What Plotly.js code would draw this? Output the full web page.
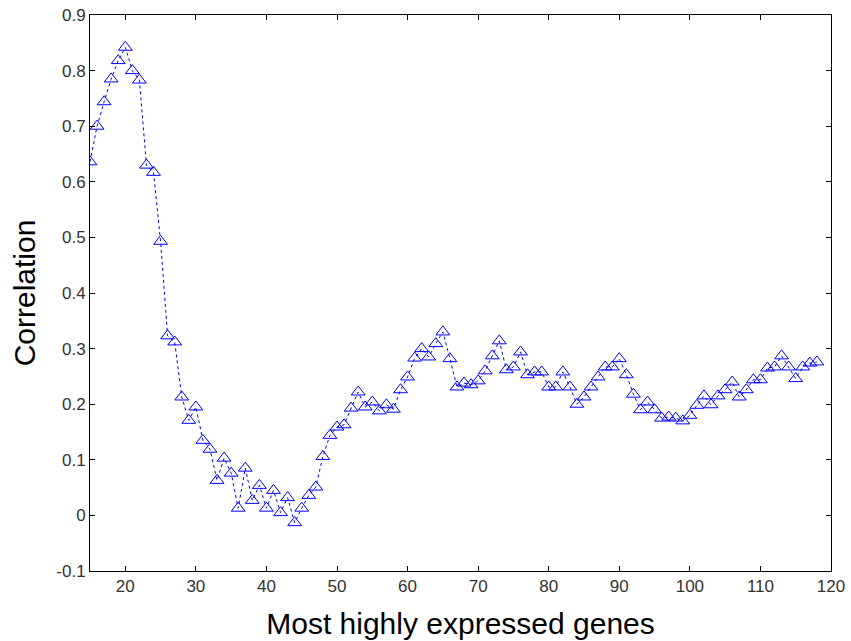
<!DOCTYPE html>
<html>
<head>
<meta charset="utf-8">
<script src="https://cdn.plot.ly/plotly-3.0.1.min.js"></script>
<style>html,body{margin:0;padding:0;background:#fff;}#chart{width:851px;height:641px;}</style>
</head>
<body>
<div id="chart"></div>
<script>
const genes = [15,16,17,18,19,20,21,22,23,24,25,26,27,28,29,30,31,32,33,34,35,36,37,38,39,40,41,42,43,44,45,46,47,48,49,50,51,52,53,54,55,56,57,58,59,60,61,62,63,64,65,66,67,68,69,70,71,72,73,74,75,76,77,78,79,80,81,82,83,84,85,86,87,88,89,90,91,92,93,94,95,96,97,98,99,100,101,102,103,104,105,106,107,108,109,110,111,112,113,114,115,116,117,118];
const correlation = [0.636,0.700,0.744,0.785,0.818,0.842,0.800,0.783,0.630,0.617,0.493,0.323,0.312,0.213,0.171,0.195,0.135,0.119,0.063,0.103,0.076,0.013,0.085,0.027,0.054,0.013,0.045,0.005,0.032,-0.013,0.013,0.036,0.051,0.106,0.144,0.159,0.163,0.193,0.222,0.195,0.204,0.188,0.199,0.191,0.226,0.249,0.283,0.300,0.285,0.309,0.330,0.282,0.231,0.238,0.235,0.242,0.260,0.287,0.314,0.262,0.267,0.294,0.253,0.258,0.258,0.231,0.231,0.258,0.231,0.200,0.213,0.231,0.249,0.267,0.267,0.282,0.253,0.218,0.190,0.204,0.190,0.175,0.177,0.175,0.170,0.180,0.198,0.215,0.199,0.215,0.226,0.240,0.213,0.226,0.244,0.244,0.265,0.267,0.287,0.267,0.246,0.267,0.274,0.276];
const xTicks = [20,30,40,50,60,70,80,90,100,110,120];
const yTicks = [-0.1,0,0.1,0.2,0.3,0.4,0.5,0.6,0.7,0.8,0.9];
const yTickText = ['-0.1','0','0.1','0.2','0.3','0.4','0.5','0.6','0.7','0.8','0.9'];

const trace = {
  x: genes, y: correlation, type: 'scatter', mode: 'lines+markers',
  line: {color: '#0000ff', width: 1, dash: 'dot'},
  marker: {symbol: 'triangle-up-open', size: 12, color: '#0000ff', line: {color: '#0000ff', width: 1}}
};
const axisCommon = {
  showgrid: false, zeroline: false, showline: true, mirror: 'ticks',
  linecolor: '#000', linewidth: 1, ticks: 'inside', ticklen: 5, tickcolor: '#000',
  tickfont: {family: 'Liberation Sans, Arial, sans-serif', size: 17, color: '#333'}
};
const layout = {
  width: 851, height: 641,
  margin: {l: 90, r: 20, t: 15, b: 70},
  paper_bgcolor: '#fff', plot_bgcolor: '#fff',
  showlegend: false,
  xaxis: Object.assign({}, axisCommon, {
    range: [15, 120], tickvals: xTicks, ticktext: xTicks.map(String),
    title: {text: 'Most highly expressed genes', font: {family: 'Liberation Sans, Arial, sans-serif', size: 30, color: '#000'}, standoff: 17}
  }),
  yaxis: Object.assign({}, axisCommon, {
    range: [-0.1, 0.9], tickvals: yTicks, ticktext: yTickText,
    title: {text: 'Correlation', font: {family: 'Liberation Sans, Arial, sans-serif', size: 30, color: '#000'}, standoff: 11}
  })
};
Plotly.newPlot('chart', [trace], layout, {displayModeBar: false, staticPlot: true});
</script>
</body>
</html>
